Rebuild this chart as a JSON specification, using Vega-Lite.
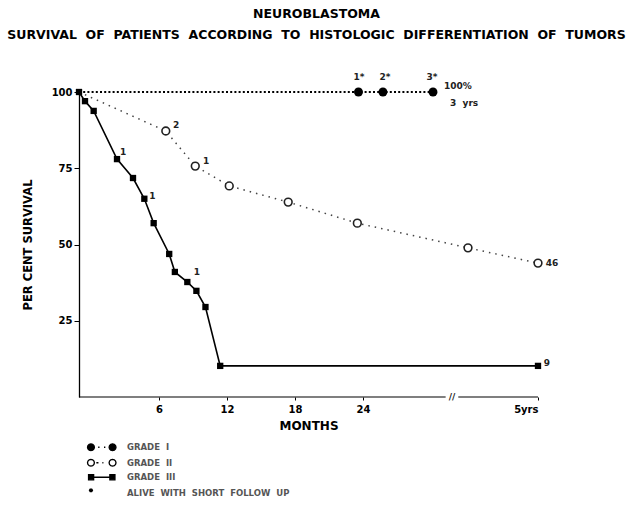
{
  "$schema": "https://vega.github.io/schema/vega-lite/v6.json",
  "width": 459,
  "height": 305,
  "autosize": "none",
  "padding": {"left": 79, "top": 92, "right": 93, "bottom": 110},
  "background": "white",
  "config": {"view": {"stroke": null}, "font": "DejaVu Sans"},
  "title": {
    "text": "NEUROBLASTOMA",
    "subtitle": "SURVIVAL \u00a0OF \u00a0PATIENTS \u00a0ACCORDING \u00a0TO \u00a0HISTOLOGIC \u00a0DIFFERENTIATION \u00a0OF \u00a0TUMORS",
    "anchor": "middle",
    "frame": "group",
    "fontSize": 12.5,
    "fontWeight": "bold",
    "color": "black",
    "subtitleFontSize": 12.5,
    "subtitleFontWeight": "bold",
    "subtitleColor": "black",
    "offset": 32,
    "subtitlePadding": 8,
    "dx": 8
  },
  "datasets": {
    "axisline": [
      {"from": 0, "to": 41, "pct": 0},
      {"from": 43.6, "to": 60, "pct": 0}
    ],
    "curves": [
      {"grade": "I", "month": 0, "pct": 100, "marker": false},
      {"grade": "I", "month": 23.6, "pct": 100, "marker": true},
      {"grade": "I", "month": 28.1, "pct": 100, "marker": true},
      {"grade": "I", "month": 38.4, "pct": 100, "marker": true},
      {"grade": "II", "month": 0, "pct": 100, "marker": false},
      {"grade": "II", "month": 6.6, "pct": 87.2, "marker": true},
      {"grade": "II", "month": 9.2, "pct": 75.7, "marker": true},
      {"grade": "II", "month": 12.2, "pct": 69.2, "marker": true},
      {"grade": "II", "month": 17.4, "pct": 63.9, "marker": true},
      {"grade": "II", "month": 23.5, "pct": 57.0, "marker": true},
      {"grade": "II", "month": 45.6, "pct": 48.9, "marker": true},
      {"grade": "II", "month": 60, "pct": 43.9, "marker": true},
      {"grade": "III", "month": 0, "pct": 100, "marker": true},
      {"grade": "III", "month": 0.45, "pct": 97.0, "marker": true},
      {"grade": "III", "month": 1.1, "pct": 93.8, "marker": true},
      {"grade": "III", "month": 2.85, "pct": 78.0, "marker": true},
      {"grade": "III", "month": 4.05, "pct": 71.8, "marker": true},
      {"grade": "III", "month": 4.9, "pct": 65.0, "marker": true},
      {"grade": "III", "month": 5.6, "pct": 57.0, "marker": true},
      {"grade": "III", "month": 6.9, "pct": 46.9, "marker": true},
      {"grade": "III", "month": 7.4, "pct": 41.0, "marker": true},
      {"grade": "III", "month": 8.5, "pct": 37.7, "marker": true},
      {"grade": "III", "month": 9.3, "pct": 34.8, "marker": true},
      {"grade": "III", "month": 10.1, "pct": 29.5, "marker": true},
      {"grade": "III", "month": 11.4, "pct": 10.2, "marker": true},
      {"grade": "III", "month": 60, "pct": 10.2, "marker": true}
    ],
    "notes": [
      {"month": 3.3, "pct": 80.3, "text": "1"},
      {"month": 5.5, "pct": 65.9, "text": "1"},
      {"month": 9.35, "pct": 41.0, "text": "1"},
      {"month": 61.8, "pct": 11.1, "text": "9"},
      {"month": 7.5, "pct": 89.2, "text": "2"},
      {"month": 10.15, "pct": 77.4, "text": "1"},
      {"month": 62.9, "pct": 43.9, "text": "46"},
      {"month": 23.65, "pct": 104.9, "text": "1*"},
      {"month": 28.5, "pct": 104.9, "text": "2*"},
      {"month": 38.2, "pct": 104.9, "text": "3*"},
      {"month": 43.5, "pct": 102.0, "text": "100%"},
      {"month": 44.8, "pct": 96.4, "text": "3 \u00a0yrs"},
      {"month": 42.3, "pct": 0, "text": "//"}
    ],
    "key": [
      {"entry": "GRADE \u00a0I"},
      {"entry": "GRADE \u00a0II"},
      {"entry": "GRADE \u00a0III"},
      {"entry": "ALIVE \u00a0WITH \u00a0SHORT \u00a0FOLLOW \u00a0UP"}
    ]
  },
  "layer": [
    {
      "data": {"name": "axisline"},
      "mark": {"type": "rule", "color": "black", "strokeWidth": 1.2},
      "encoding": {
        "x": {
          "field": "from",
          "type": "quantitative",
          "title": "MONTHS",
          "scale": {"domain": [0, 6, 24, 60], "range": [0, 80, 284, 459], "nice": false, "zero": false},
          "axis": {
            "values": [6, 12, 18, 24, 60],
            "labelExpr": "datum.value == 60 ? '5yrs' : datum.label",
            "domain": false,
            "grid": false,
            "ticks": true,
            "tickSize": 3,
            "tickColor": "black",
            "labelPadding": 4,
            "labelFontSize": 10,
            "labelFontWeight": "bold",
            "labelColor": "black",
            "titleFontSize": 12,
            "titleFontWeight": "bold",
            "titleColor": "black",
            "titlePadding": 6
          }
        },
        "x2": {"field": "to"},
        "y": {
          "field": "pct",
          "type": "quantitative",
          "title": "PER CENT SURVIVAL",
          "scale": {"domain": [0, 100], "nice": false},
          "axis": {
            "values": [25, 50, 75, 100],
            "grid": false,
            "domainColor": "black",
            "domainWidth": 1.3,
            "tickColor": "black",
            "tickSize": 5,
            "labelPadding": 2,
            "labelFontSize": 10,
            "labelFontWeight": "bold",
            "labelColor": "black",
            "titleFontSize": 11.5,
            "titleFontWeight": "bold",
            "titleColor": "black",
            "titlePadding": 18
          }
        }
      }
    },
    {
      "data": {"name": "curves"},
      "transform": [{"filter": "datum.grade == 'I'"}],
      "mark": {"type": "line", "color": "black", "strokeWidth": 2.2, "strokeDash": [2, 2.2], "strokeCap": "butt"},
      "encoding": {
        "x": {"field": "month", "type": "quantitative", "title": "MONTHS"},
        "y": {"field": "pct", "type": "quantitative", "title": "PER CENT SURVIVAL"}
      }
    },
    {
      "data": {"name": "curves"},
      "transform": [{"filter": "datum.grade == 'II'"}],
      "mark": {"type": "line", "color": "#444", "strokeWidth": 1.5, "strokeDash": [1.5, 5]},
      "encoding": {
        "x": {"field": "month", "type": "quantitative", "title": "MONTHS"},
        "y": {"field": "pct", "type": "quantitative", "title": "PER CENT SURVIVAL"}
      }
    },
    {
      "data": {"name": "curves"},
      "transform": [{"filter": "datum.grade == 'III'"}],
      "mark": {"type": "line", "color": "black", "strokeWidth": 1.6},
      "encoding": {
        "x": {"field": "month", "type": "quantitative", "title": "MONTHS"},
        "y": {"field": "pct", "type": "quantitative", "title": "PER CENT SURVIVAL"}
      }
    },
    {
      "data": {"name": "curves"},
      "transform": [{"filter": "datum.grade == 'I' && datum.marker"}],
      "mark": {"type": "point", "shape": "circle", "filled": true, "color": "black", "size": 80, "opacity": 1},
      "encoding": {
        "x": {"field": "month", "type": "quantitative", "title": "MONTHS"},
        "y": {"field": "pct", "type": "quantitative", "title": "PER CENT SURVIVAL"}
      }
    },
    {
      "data": {"name": "curves"},
      "transform": [{"filter": "datum.grade == 'II' && datum.marker"}],
      "mark": {"type": "point", "shape": "circle", "filled": true, "fill": "white", "stroke": "#222", "strokeWidth": 1.6, "size": 60, "opacity": 1},
      "encoding": {
        "x": {"field": "month", "type": "quantitative", "title": "MONTHS"},
        "y": {"field": "pct", "type": "quantitative", "title": "PER CENT SURVIVAL"}
      }
    },
    {
      "data": {"name": "curves"},
      "transform": [{"filter": "datum.grade == 'III' && datum.marker"}],
      "mark": {"type": "point", "shape": "square", "filled": true, "color": "black", "size": 40, "opacity": 1},
      "encoding": {
        "x": {"field": "month", "type": "quantitative", "title": "MONTHS"},
        "y": {"field": "pct", "type": "quantitative", "title": "PER CENT SURVIVAL"}
      }
    },
    {
      "data": {"name": "notes"},
      "mark": {"type": "text", "fontSize": 9, "fontWeight": "bold", "color": "#222", "align": "center", "baseline": "middle"},
      "encoding": {
        "x": {"field": "month", "type": "quantitative", "title": "MONTHS"},
        "y": {"field": "pct", "type": "quantitative", "title": "PER CENT SURVIVAL"},
        "text": {"field": "text", "type": "nominal"}
      }
    },
    {
      "data": {"name": "key"},
      "mark": {"type": "point", "opacity": 0, "size": 36, "filled": true, "strokeWidth": 1.3},
      "encoding": {
        "shape": {
          "field": "entry",
          "type": "nominal",
          "scale": {
            "domain": ["GRADE \u00a0I", "GRADE \u00a0II", "GRADE \u00a0III", "ALIVE \u00a0WITH \u00a0SHORT \u00a0FOLLOW \u00a0UP"],
            "range": [
              "M-2.45,0L-2.6,0.58L-3.02,1L-3.6,1.15L-4.18,1L-4.6,0.58L-4.75,0L-4.6,-0.58L-4.18,-1L-3.6,-1.15L-3.02,-1L-2.6,-0.58Z M-1.2,0h0.45 M0.75,0h0.45 M4.75,0L4.6,0.58L4.18,1L3.6,1.15L3.02,1L2.6,0.58L2.45,0L2.6,-0.58L3.02,-1L3.6,-1.15L4.18,-1L4.6,-0.58Z",
              "M-2.45,0L-2.6,0.58L-3.02,1L-3.6,1.15L-4.18,1L-4.6,0.58L-4.75,0L-4.6,-0.58L-4.18,-1L-3.6,-1.15L-3.02,-1L-2.6,-0.58Z M-1.8,0h0.7 M0.2,0h0.35 M4.75,0L4.6,0.58L4.18,1L3.6,1.15L3.02,1L2.6,0.58L2.45,0L2.6,-0.58L3.02,-1L3.6,-1.15L4.18,-1L4.6,-0.58Z",
              "M-4.4,-0.85h1.7v1.7h-1.7Z M-2.7,0H2.7 M2.7,-0.85h1.7v1.7h-1.7Z",
              "M-3.1,-0.8L-3.35,-0.37L-3.85,-0.37L-4.1,-0.8L-3.85,-1.23L-3.35,-1.23Z"
            ]
          },
          "legend": {
            "title": null,
            "orient": "none",
            "legendX": 18.5,
            "legendY": 351,
            "symbolSize": 36,
            "symbolOpacity": 1,
            "symbolStrokeWidth": 1.3,
            "labelOffset": 21,
            "labelFontSize": 8.5,
            "labelFontWeight": "bold",
            "labelColor": "#555",
            "labelLimit": 400,
            "rowPadding": 2.5,
            "padding": 0
          }
        },
        "color": {
          "field": "entry",
          "type": "nominal",
          "scale": {
            "domain": ["GRADE \u00a0I", "GRADE \u00a0II", "GRADE \u00a0III", "ALIVE \u00a0WITH \u00a0SHORT \u00a0FOLLOW \u00a0UP"],
            "range": ["black", "white", "black", "black"]
          },
          "legend": {
            "title": null,
            "orient": "none",
            "legendX": 18.5,
            "legendY": 351,
            "symbolSize": 36,
            "symbolOpacity": 1,
            "symbolStrokeWidth": 1.3,
            "labelOffset": 21,
            "labelFontSize": 8.5,
            "labelFontWeight": "bold",
            "labelColor": "#555",
            "labelLimit": 400,
            "rowPadding": 2.5,
            "padding": 0
          }
        },
        "stroke": {
          "field": "entry",
          "type": "nominal",
          "scale": {
            "domain": ["GRADE \u00a0I", "GRADE \u00a0II", "GRADE \u00a0III", "ALIVE \u00a0WITH \u00a0SHORT \u00a0FOLLOW \u00a0UP"],
            "range": ["black", "black", "black", "black"]
          },
          "legend": {
            "title": null,
            "orient": "none",
            "legendX": 18.5,
            "legendY": 351,
            "symbolSize": 36,
            "symbolOpacity": 1,
            "symbolStrokeWidth": 1.3,
            "labelOffset": 21,
            "labelFontSize": 8.5,
            "labelFontWeight": "bold",
            "labelColor": "#555",
            "labelLimit": 400,
            "rowPadding": 2.5,
            "padding": 0
          }
        }
      }
    }
  ]
}
